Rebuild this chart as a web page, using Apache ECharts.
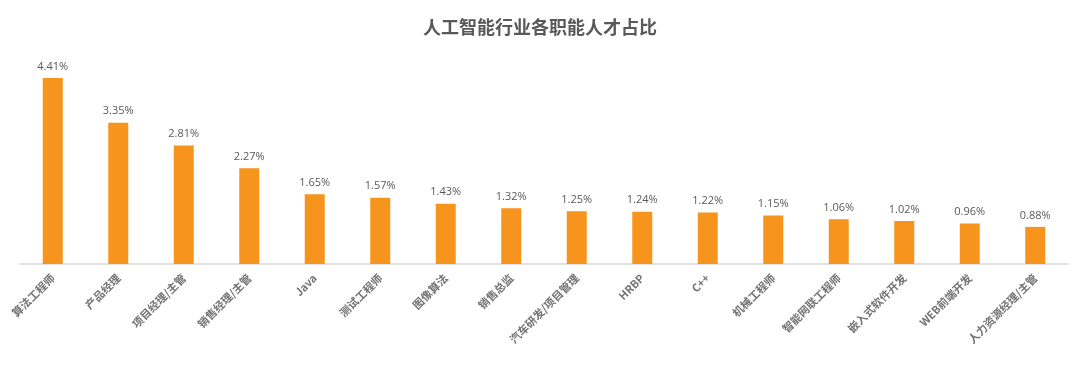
<!DOCTYPE html>
<html>
<head>
<meta charset="utf-8">
<script src="https://cdn.jsdelivr.net/npm/echarts@6/dist/echarts.min.js"></script>
<style>html,body{margin:0;padding:0;background:#fff;}#main{width:1080px;height:366px;}</style>
</head>
<body>
<div id="main"></div>
<script>
const titleText = '人工智能行业各职能人才占比';
const categories = ['算法工程师','产品经理','项目经理/主管','销售经理/主管','Java','测试工程师','图像算法','销售总监','汽车研发/项目管理','HRBP','C++','机械工程师','智能网联工程师','嵌入式软件开发','WEB前端开发','人力资源经理/主管'];
const values = [4.41,3.35,2.81,2.27,1.65,1.57,1.43,1.32,1.25,1.24,1.22,1.15,1.06,1.02,0.96,0.88];

const chart = echarts.init(document.getElementById('main'));
chart.setOption({
  backgroundColor: '#ffffff',
  animation: false,
  title: {
    text: titleText,
    left: 'center',
    top: 13,
    textStyle: { fontSize: 18, fontWeight: 'bold', color: '#595959', fontFamily: 'Noto Sans CJK SC' }
  },
  grid: { left: 20, right: 12, top: 53, bottom: 102, containLabel: false },
  xAxis: {
    type: 'category',
    data: categories,
    axisLine: { lineStyle: { color: '#d9d9d9', width: 1.5 } },
    axisTick: { show: false },
    axisLabel: {
      rotate: 45, interval: 0, margin: 12,
      color: '#737373', fontSize: 11, fontWeight: 'bold',
      fontFamily: 'Noto Sans CJK SC'
    }
  },
  yAxis: {
    type: 'value', min: 0, max: 5,
    show: false,
    splitLine: { show: false }
  },
  series: [{
    type: 'bar',
    data: values,
    barWidth: 20,
    itemStyle: { color: '#F7941D' },
    label: {
      show: true, position: 'top', distance: 6,
      formatter: p => p.value.toFixed(2) + '%',
      color: '#595959', fontSize: 11, fontFamily: 'Open Sans'
    }
  }]
});
</script>
</body>
</html>
